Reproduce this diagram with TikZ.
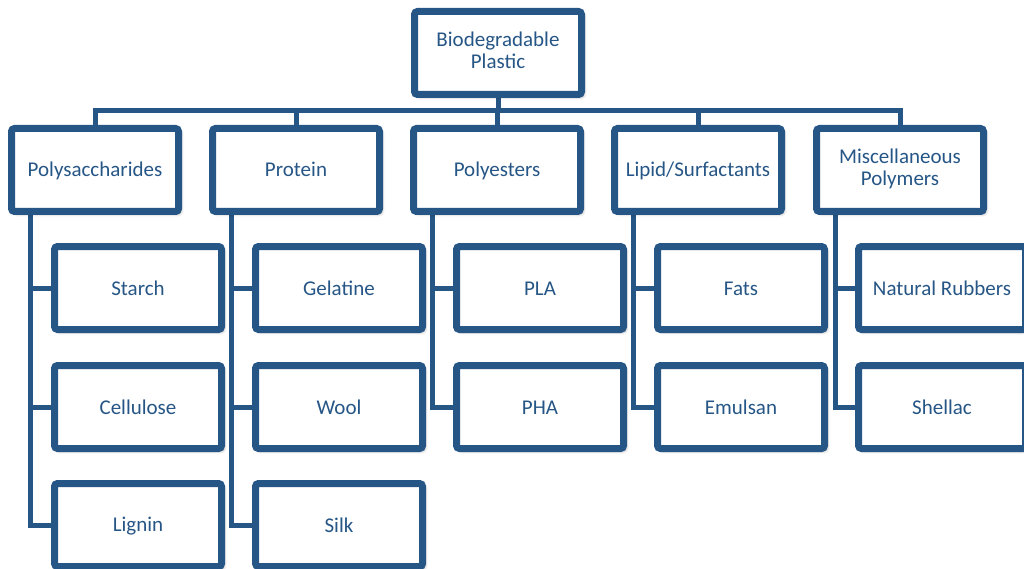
\documentclass[tikz,border=0pt]{standalone}
\usepackage{fontspec}
\setmainfont{Carlito}
\usetikzlibrary{shadows.blur,backgrounds}
\definecolor{bblue}{RGB}{38,86,134}
\newcommand\mystrutA{\rule[-3pt]{0pt}{20pt}}
\newcommand\mystrutB{\rule[-6pt]{0pt}{6pt}}
\begin{document}
\begin{tikzpicture}[x=1pt,y=-1pt,
  box/.style={draw=bblue, fill=white, line width=7pt, rounded corners=3pt,
    minimum width=167pt, minimum height=83pt, inner sep=0pt, text=bblue, align=center,
    font=\fontsize{21}{22}\selectfont, execute at begin node=\mystrutA,
    blur shadow={shadow xshift=2.5pt, shadow yshift=-2.5pt, shadow blur steps=6, shadow blur radius=3pt, shadow opacity=35}},
  conn/.style={draw=bblue, line width=5pt}]
\useasboundingbox (0,0) rectangle (1024,569);
\node[box] (top) at (498,53) {Biodegradable\\\mystrutB Plastic};
\node[box] (p1) at (95,170) {Polysaccharides};
\node[box] (p2) at (296,170) {Protein};
\node[box] (p3) at (497,170) {Polyesters};
\node[box] (p4) at (698,170) {Lipid/Surfactants};
\node[box] (p5) at (900,170) {Miscellaneous\\\mystrutB Polymers};
\node[box] (c11) at (138,288) {Starch};
\node[box] (c12) at (138,407) {Cellulose};
\node[box] (c13) at (138,525) {Lignin};
\node[box] (c21) at (339,288) {Gelatine};
\node[box] (c22) at (339,407) {Wool};
\node[box] (c23) at (339,525) {Silk};
\node[box] (c31) at (540,288) {PLA};
\node[box] (c32) at (540,407) {PHA};
\node[box] (c41) at (741,288) {Fats};
\node[box] (c42) at (741,407) {Emulsan};
\node[box] (c51) at (942,288) {Natural Rubbers};
\node[box] (c52) at (942,407) {Shellac};
\coordinate (bus) at (0,111);
\begin{scope}[on background layer]
\draw[conn] (top.center) -- (top |- bus);
\draw[conn] (p1.center) -- (p1 |- bus) -- (p5 |- bus) -- (p5.center);
\foreach \p in {p2,p3,p4} \draw[conn] (\p.center) -- (\p |- bus);
\draw[conn] ([xshift=22pt]p1.south west) |- (c13.west);
\draw[conn] ([xshift=22pt]p1.south west |- c11.west) -- (c11.west);
\draw[conn] ([xshift=22pt]p1.south west |- c12.west) -- (c12.west);
\draw[conn] ([xshift=22pt]p2.south west) |- (c23.west);
\draw[conn] ([xshift=22pt]p2.south west |- c21.west) -- (c21.west);
\draw[conn] ([xshift=22pt]p2.south west |- c22.west) -- (c22.west);
\draw[conn] ([xshift=22pt]p3.south west) |- (c32.west);
\draw[conn] ([xshift=22pt]p3.south west |- c31.west) -- (c31.west);
\draw[conn] ([xshift=22pt]p4.south west) |- (c42.west);
\draw[conn] ([xshift=22pt]p4.south west |- c41.west) -- (c41.west);
\draw[conn] ([xshift=22pt]p5.south west) |- (c52.west);
\draw[conn] ([xshift=22pt]p5.south west |- c51.west) -- (c51.west);
\end{scope}
\end{tikzpicture}
\end{document}
